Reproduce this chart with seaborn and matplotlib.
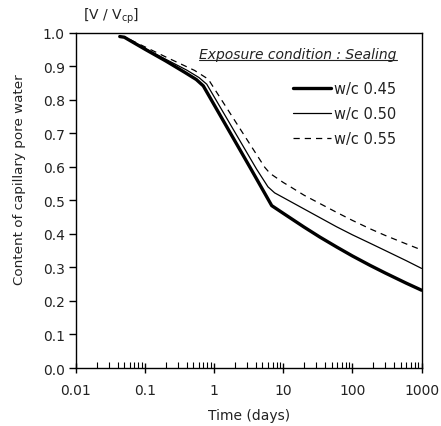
import numpy as np
import pandas as pd
import matplotlib
matplotlib.use("Agg")
import matplotlib.pyplot as plt
import seaborn as sns
from matplotlib.ticker import LogLocator, FixedLocator, FixedFormatter, NullFormatter

# Data (time in days, content of capillary pore water V/Vcp)
t_045 = [0.043, 0.05, 0.1, 0.2, 0.377, 0.55, 0.695, 3.3, 6.8, 10, 20, 34, 60, 100, 180, 300, 600, 1000]
v_045 = [0.988, 0.986, 0.950, 0.915, 0.881, 0.860, 0.841, 0.598, 0.484, 0.461, 0.420, 0.390, 0.360, 0.334, 0.306, 0.283, 0.253, 0.232]

t_050 = [0.043, 0.05, 0.1, 0.2, 0.4, 0.6, 0.78, 4.1, 6.0, 7.5, 10, 20, 59, 100, 180, 300, 600, 1000]
v_050 = [0.988, 0.987, 0.953, 0.920, 0.888, 0.866, 0.846, 0.593, 0.540, 0.522, 0.508, 0.474, 0.421, 0.397, 0.372, 0.350, 0.320, 0.297]

t_055 = [0.043, 0.05, 0.1, 0.2, 0.52, 0.82, 5.4, 6.43, 10, 12.5, 20, 59, 100, 180, 300, 600, 1000]
v_055 = [0.988, 0.987, 0.957, 0.927, 0.887, 0.861, 0.598, 0.580, 0.553, 0.541, 0.515, 0.464, 0.440, 0.415, 0.395, 0.370, 0.352]

series_names = ["w/c 0.45", "w/c 0.50", "w/c 0.55"]
x_ticks = [0.01, 0.1, 1, 10, 100, 1000]
x_tick_labels = ["0.01", "0.1", "1", "10", "100", "1000"]
y_ticks = [0.0, 0.1, 0.2, 0.3, 0.4, 0.5, 0.6, 0.7, 0.8, 0.9, 1.0]

sns.set_theme(style="white")
plt.rcParams["font.family"] = ["DejaVu Sans"]
plt.rcParams["mathtext.default"] = "regular"

fig = plt.figure(figsize=(4.41, 4.27), dpi=100)
ax = fig.add_axes([0.1723, 0.1358, 0.7835, 0.7857])

styles = [dict(lw=2.4, ls="-"), dict(lw=0.9, ls="-"), dict(lw=0.9, ls=(0, (5, 4)))]
for (tt, vv), name, st in zip([(t_045, v_045), (t_050, v_050), (t_055, v_055)], series_names, styles):
    df = pd.DataFrame({"t": tt, "v": vv})
    sns.lineplot(data=df, x="t", y="v", ax=ax, color="black", linewidth=st["lw"],
                 linestyle=st["ls"], label=name, estimator=None, sort=False)

ax.set_xscale("log")
ax.set_xlim(0.01, 1000)
ax.set_ylim(0, 1.0)
ax.xaxis.set_major_locator(FixedLocator(x_ticks))
ax.xaxis.set_major_formatter(FixedFormatter(x_tick_labels))
ax.xaxis.set_minor_locator(LogLocator(base=10, subs=np.arange(2, 10), numticks=20))
ax.xaxis.set_minor_formatter(NullFormatter())
ax.set_yticks(y_ticks)
ax.set_yticklabels([f"{v:.1f}" for v in y_ticks])

for sp in ax.spines.values():
    sp.set_color("black")
    sp.set_linewidth(1.0)
ax.tick_params(axis="x", which="major", direction="inout", length=7, width=1, color="black",
               labelsize=10, labelcolor="#222222", pad=7)
ax.tick_params(axis="x", which="minor", direction="in", length=4, width=0.8, color="black")
ax.tick_params(axis="y", which="major", direction="out", length=5, width=1, color="black",
               labelsize=10, labelcolor="#222222", pad=3)
ax.tick_params(bottom=True, left=True, which="both")

ax.set_xlabel("Time (days)", fontsize=10, color="#222222", labelpad=8)
ax.set_ylabel("Content of capillary pore water", fontsize=9.7, color="#222222")
ax.yaxis.set_label_coords(-0.145, 0.565)

fig.text(0.188, 0.961, "[V / V$_{cp}$]", fontsize=10, color="#222222", ha="left", va="center")

leg = ax.legend(loc="upper right", bbox_to_anchor=(0.928, 0.856), frameon=False, fontsize=10.5,
                handlelength=2.6, handletextpad=0.25, labelspacing=0.7, borderaxespad=0.0,
                borderpad=0.0)
for txt in leg.get_texts():
    txt.set_color("#222222")

title = ax.text(0.928, 0.936, "Exposure condition : Sealing", transform=ax.transAxes,
                ha="right", va="center", fontsize=10, style="italic", color="#222222")
fig.canvas.draw()
bb = title.get_window_extent(renderer=fig.canvas.get_renderer())
inv = fig.transFigure.inverted()
(x0, y0), (x1, y1) = inv.transform([[bb.x0, bb.y0], [bb.x1, bb.y0]])
fig.add_artist(plt.Line2D([x0, x1], [y0 + 0.002, y1 + 0.002], transform=fig.transFigure,
                          color="#222222", lw=0.8))

fig.savefig("out.png", dpi=100)
